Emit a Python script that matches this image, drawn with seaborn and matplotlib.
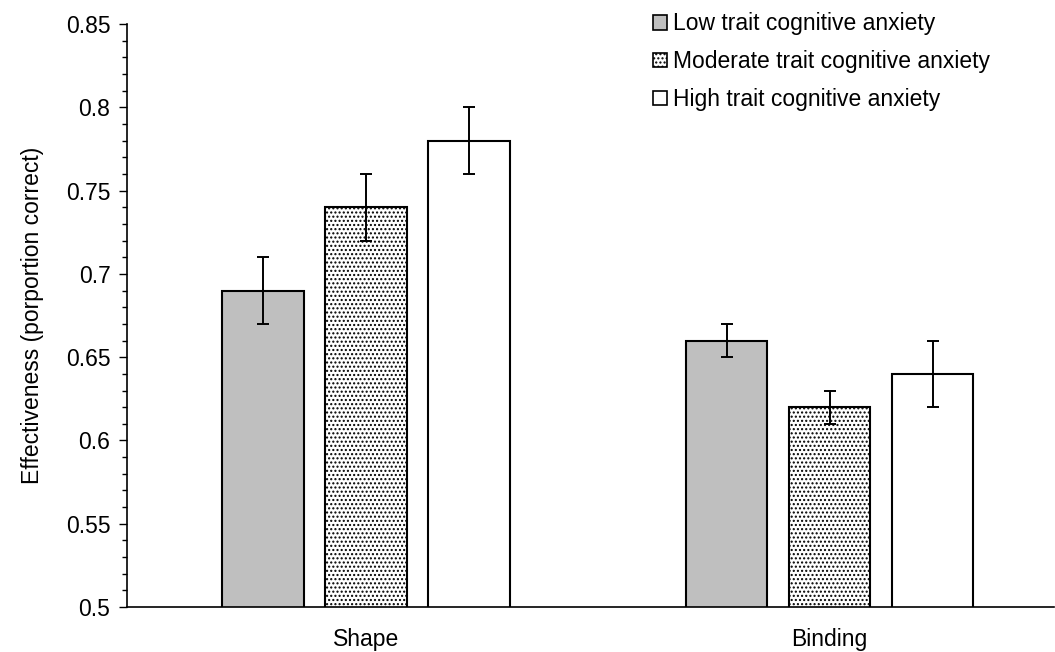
import matplotlib
matplotlib.use("Agg")
import matplotlib.pyplot as plt
import seaborn as sns
import pandas as pd
import numpy as np
from matplotlib.ticker import MultipleLocator
from matplotlib.patches import Patch

categories = ["Shape", "Binding"]
groups = ["Low trait cognitive anxiety", "Moderate trait cognitive anxiety", "High trait cognitive anxiety"]
low_vals = [0.69, 0.66]
mod_vals = [0.74, 0.62]
high_vals = [0.78, 0.64]
low_err = [0.02, 0.01]
mod_err = [0.02, 0.01]
high_err = [0.02, 0.02]

sns.set_theme(style="ticks")
plt.rcParams['font.family'] = ['Liberation Sans', 'DejaVu Sans']
plt.rcParams['hatch.linewidth'] = 1.0
plt.rcParams['hatch.color'] = '#444444'
plt.rcParams['text.color'] = 'black'
plt.rcParams['axes.labelcolor'] = 'black'
plt.rcParams['xtick.color'] = 'black'
plt.rcParams['ytick.color'] = 'black'

rows = []
for gi, (g, vals, errs) in enumerate(zip(groups, [low_vals, mod_vals, high_vals], [low_err, mod_err, high_err])):
    for c, v, e in zip(categories, vals, errs):
        rows.append({"Task": c, "Group": g, "Value": v, "Err": e})
df = pd.DataFrame(rows)

FS = 16.5

fig = plt.figure(figsize=(10.55, 6.52), dpi=100)
ax = fig.add_axes([0.1205, 0.069, 0.879, 0.894])

colors = ["#BFBFBF", "#FFFFFF", "#FFFFFF"]
sns.barplot(data=df, x="Task", y="Value", hue="Group", order=categories, hue_order=groups,
            palette=colors, width=0.666, gap=0.21, errorbar=None, edgecolor="black",
            linewidth=1.5, saturation=1, ax=ax, legend=False)

hatches = [None, "....", None]
bar_containers = list(ax.containers)[:3]
for gi, cont in enumerate(bar_containers):
    sub = df[df["Group"] == groups[gi]].set_index("Task").loc[categories]
    for bar, e in zip(cont.patches, sub["Err"]):
        if hatches[gi]:
            bar.set_hatch(hatches[gi])
        cx = bar.get_x() + bar.get_width() / 2
        ax.errorbar(cx, bar.get_height(), yerr=e, color="black", capsize=4.5, elinewidth=1.4, capthick=1.4, fmt="none", zorder=5)

ax.set_ylim(0.5, 0.85)
ax.set_xlim(-0.515, 1.485)
ax.yaxis.set_minor_locator(MultipleLocator(0.01))
ticks = np.round(np.arange(0.5, 0.851, 0.05), 2)
ax.set_yticks(ticks)
ax.set_yticklabels([f"{t:g}" for t in ticks])
ax.tick_params(axis="y", which="major", length=6, width=1, labelsize=FS, color="black", labelcolor="black", pad=6)
ax.tick_params(axis="y", which="minor", length=3.5, width=1, color="black")
ax.tick_params(axis="x", length=0, labelsize=FS, labelcolor="black", pad=15)
ax.set_xlabel("")
ax.set_ylabel("Effectiveness (porportion correct)", fontsize=FS, labelpad=16, color="black")
sns.despine(ax=ax)
for s in ["left", "bottom"]:
    ax.spines[s].set_color("black")
    ax.spines[s].set_linewidth(1.2)

handles = [Patch(facecolor=colors[i], edgecolor="black", hatch=hatches[i], linewidth=1.2) for i in range(3)]
leg = ax.legend(handles, groups, loc="upper left", bbox_to_anchor=(0.5575, 1.036), frameon=False,
                fontsize=FS, handlelength=0.6, handleheight=0.6, handletextpad=0.25, labelspacing=0.65,
                borderaxespad=0)
for t in leg.get_texts():
    t.set_color("black")

fig.savefig("out.png", dpi=100)
